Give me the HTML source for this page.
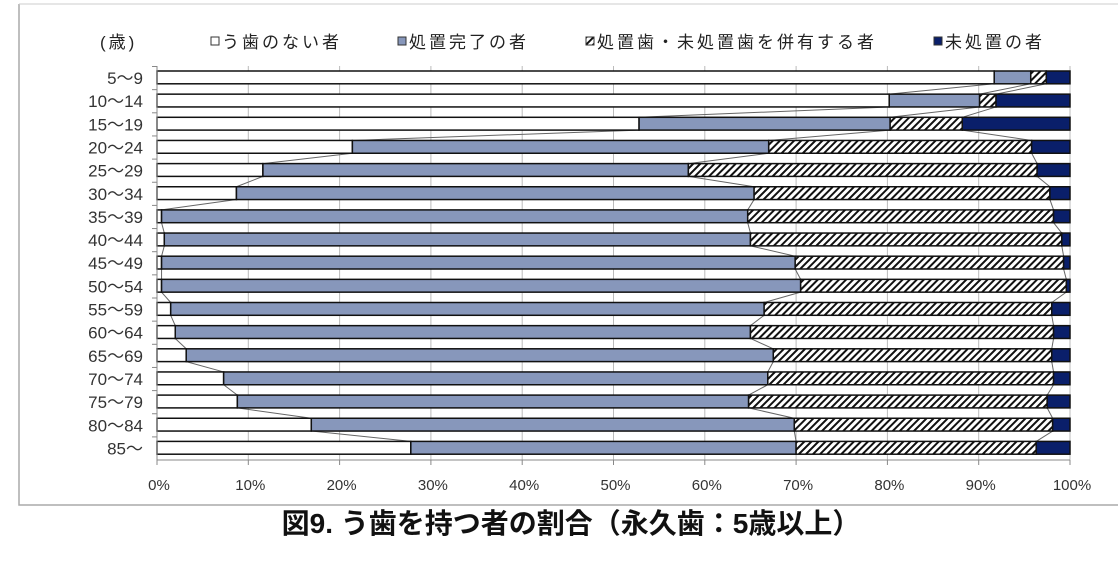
<!DOCTYPE html>
<html><head><meta charset="utf-8"><style>
body{margin:0;background:#fff;width:1118px;height:562px;overflow:hidden}
svg{display:block}
text{font-family:"Liberation Sans","Noto Sans CJK JP",sans-serif}
</style></head><body>
<svg width="1118" height="562" viewBox="0 0 1118 562">
<defs>
<pattern id="h" width="5" height="5" patternUnits="userSpaceOnUse" patternTransform="rotate(45)">
<rect width="5" height="5" fill="#fff"/><rect width="2" height="5" fill="#111"/>
</pattern>
</defs>
<path d="M19,4 V505 H1118" fill="none" stroke="#aaa" stroke-width="1.5"/>
<path d="M19,4 H1118" fill="none" stroke="#ccc" stroke-width="1"/>
<g font-size="17" fill="#222" letter-spacing="3">
<text x="100" y="48">(歳)</text>
<rect x="211" y="37" width="8" height="8" fill="#fff" stroke="#333"/><text x="222" y="48">う歯のない者</text>
<rect x="398" y="37" width="8" height="8" fill="#8797bb" stroke="#333"/><text x="409" y="48">処置完了の者</text>
<rect x="586" y="37" width="8" height="8" fill="url(#h)" stroke="#333"/><text x="597" y="48">処置歯・未処置歯を併有する者</text>
<rect x="934" y="37" width="8" height="8" fill="#0a1f6a" stroke="#333"/><text x="945" y="48">未処置の者</text>
</g>
<g id="grid" stroke="#bbb" stroke-width="1"></g>
<g id="lines" stroke="#666" stroke-width="1" fill="none"></g>
<g id="bars"></g>
<g id="labels" font-size="17" fill="#333" text-anchor="end"></g>
<g id="xt" font-size="15" fill="#333" text-anchor="middle"></g>
<line x1="157" y1="66" x2="157" y2="460" stroke="#888"/>
<line x1="157" y1="460" x2="1070" y2="460" stroke="#888"/>
<text x="571" y="533" font-size="28" font-weight="bold" text-anchor="middle" fill="#111">図9. う歯を持つ者の割合（永久歯：5歳以上）</text>
</svg>
<script>
var L=["5～9","10～14","15～19","20～24","25～29","30～34","35～39","40～44","45～49","50～54","55～59","60～64","65～69","70～74","75～79","80～84","85～"];
var D=[[91.7,95.7,97.4],[80.2,90.1,91.9],[52.8,80.3,88.2],[21.4,67,95.8],[11.6,58.2,96.4],[8.7,65.4,97.8],[0.5,64.7,98.2],[0.8,65,99.1],[0.5,69.9,99.3],[0.5,70.5,99.6],[1.5,66.5,98],[2,65,98.2],[3.2,67.5,98],[7.3,66.9,98.2],[8.8,64.8,97.5],[16.9,69.8,98.1],[27.8,70,96.3]];
var ns="http://www.w3.org/2000/svg";
function el(p,t,a,txt){var e=document.createElementNS(ns,t);for(var k in a)e.setAttribute(k,a[k]);if(txt)e.textContent=txt;document.getElementById(p).appendChild(e);}
function X(v){return 157+v*9.13;}
var P=23.15;
for(var i=1;i<=10;i++){el("grid","line",{x1:X(i*10),y1:66,x2:X(i*10),y2:460});}
for(var i=0;i<=10;i++){el("xt","text",{x:X(i*10)+2,y:490},i*10+"%");el("grid","line",{x1:X(i*10),y1:460,x2:X(i*10),y2:465,stroke:"#888"});}
var fills=["#fff","#8797bb","url(#h)","#0a1f6a"];
for(var r=0;r<17;r++){
 var y=71+r*P,h=12.8;
 el("grid","line",{x1:152,y1:66+r*P+0.5,x2:157,y2:66+r*P+0.5,stroke:"#888"});
 var v=[0].concat(D[r]).concat([100]);
 for(var s=0;s<4;s++){el("bars","rect",{x:X(v[s]),y:y,width:X(v[s+1])-X(v[s]),height:h,fill:fills[s],stroke:"#111","stroke-width":1.5});}
 el("labels","text",{x:143,y:y+13},L[r]);
 if(r<16){for(var s=0;s<3;s++){el("lines","line",{x1:X(D[r][s]),y1:y+h,x2:X(D[r+1][s]),y2:y+P});}}
}
</script>
</body></html>
